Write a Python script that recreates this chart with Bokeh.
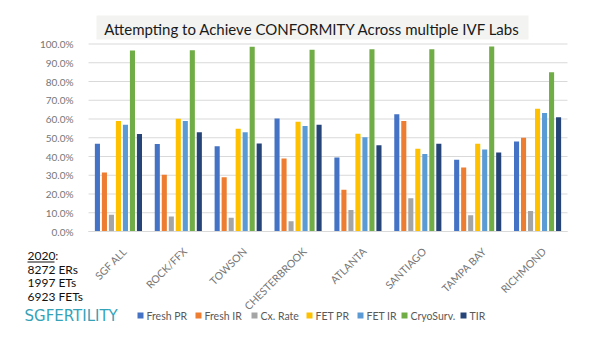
import math
from bokeh.plotting import figure
from bokeh.models import (Range1d, Label, BoxAnnotation, LinearAxis,
                          PrintfTickFormatter, FixedTicker, ColumnDataSource)
from bokeh.embed import file_html
from bokeh.resources import INLINE

labs = ["SGF ALL", "ROCK/FFX", "TOWSON", "CHESTERBROOK", "ATLANTA",
        "SANTIAGO", "TAMPA BAY", "RICHMOND"]
series = ["Fresh PR", "Fresh IR", "Cx. Rate", "FET PR", "FET IR", "CryoSurv.", "TIR"]
fresh_pr = [46.8, 46.7, 45.5, 60.3, 39.5, 62.5, 38.3, 48.0]
fresh_ir = [31.5, 30.3, 29.0, 39.0, 22.3, 59.0, 34.2, 50.0]
cx_rate = [9.0, 8.0, 7.3, 5.5, 11.5, 17.8, 8.7, 11.0]
fet_pr = [59.0, 60.2, 54.8, 58.5, 52.2, 44.2, 46.8, 65.5]
fet_ir = [57.0, 59.0, 53.0, 56.3, 50.3, 41.4, 43.8, 63.2]
cryo = [96.5, 96.7, 98.5, 97.0, 97.2, 97.2, 98.7, 85.0]
tir = [52.0, 53.0, 47.0, 57.0, 46.0, 46.8, 42.2, 61.0]
values = [fresh_pr, fresh_ir, cx_rate, fet_pr, fet_ir, cryo, tir]
colors = ["#4472C4", "#ED7D31", "#A5A5A5", "#FFC000", "#5B9BD5", "#70AD47", "#264478"]
y_ticks = [0, 10, 20, 30, 40, 50, 60, 70, 80, 90, 100]

title_text = "Attempting to Achieve CONFORMITY Across multiple IVF Labs"
note_lines = ["2020:", "8272 ERs", "1997 ETs", "6923 FETs"]
brand = "SGFERTILITY"

W, H = 600, 338
# plot area (canvas px): left, right, 0% line, 100% line
AL, AR, A0, A100 = 88, 567, 231, 43.5
n = len(labs)
xu = (AR - AL) / n          # px per category
yu = (A0 - A100) / 100.0    # px per percent

p = figure(width=W, height=H,
           x_range=Range1d(-AL / xu, n + (W - AR) / xu),
           y_range=Range1d(-(H - A0) / yu, 100 + A100 / yu),
           x_axis_type=None, y_axis_type=None,
           output_backend="svg", toolbar_location=None,
           min_border=0, min_border_left=0, min_border_right=0,
           min_border_top=0, min_border_bottom=0)
p.outline_line_color = None
p.background_fill_color = "white"
p.border_fill_color = "white"
p.grid.visible = False

# horizontal gridlines over the plot area
p.segment(x0=[0] * len(y_ticks), x1=[n] * len(y_ticks), y0=y_ticks, y1=y_ticks,
          line_color="#d9d9d9", line_width=1)

centers = [i + 0.5 for i in range(n)]
src = ColumnDataSource(dict(xc=centers, **{f"s{i}": v for i, v in enumerate(values)}))
step = 0.117
for i, (name, col) in enumerate(zip(series, colors)):
    src.data[f"x{i}"] = [c + (i - 3) * step for c in centers]
    p.vbar(x=f"x{i}", top=f"s{i}", width=0.085, source=src,
           fill_color=col, line_color=None)

# y axis at the left edge of the plot area
yaxis = LinearAxis(fixed_location=0, ticker=FixedTicker(ticks=y_ticks),
                   formatter=PrintfTickFormatter(format="%.1f%%"), bounds=(0, 100))
yaxis.axis_line_color = None
yaxis.major_tick_line_color = None
yaxis.minor_tick_line_color = None
yaxis.major_label_standoff = 9
yaxis.major_label_text_font = "Lato"
yaxis.major_label_text_font_size = "10px"
yaxis.major_label_text_color = "#767676"
p.add_layout(yaxis, "left")

# x axis along the 0% line (label anchors sit slightly right of the group centre)
label_pos = [c + 0.11 for c in centers]
overrides = {pos: name for pos, name in zip(label_pos, labs)}
xaxis = LinearAxis(fixed_location=0, ticker=FixedTicker(ticks=label_pos), bounds=(0, n),
                   major_label_overrides=overrides)
xaxis.axis_line_color = "#d9d9d9"
xaxis.major_tick_line_color = None
xaxis.minor_tick_line_color = None
xaxis.major_label_orientation = math.pi / 4
xaxis.major_label_standoff = 12
xaxis.major_label_text_font = "Lato"
xaxis.major_label_text_font_size = "10.5px"
xaxis.major_label_text_color = "#767676"
p.add_layout(xaxis, "below")


def sx(cx):
    return cx


def sy(cy):
    return H - cy


# title box and title
p.add_layout(BoxAnnotation(left=sx(96), right=sx(528), top=sy(15), bottom=sy(39),
                           left_units="screen", right_units="screen",
                           top_units="screen", bottom_units="screen",
                           fill_color="#f3f3f1", fill_alpha=1, line_color=None))
p.add_layout(Label(x=sx(312), y=sy(28), x_units="screen", y_units="screen",
                   text=title_text, text_align="center", text_baseline="middle",
                   text_font="Lato", text_font_size="15px", text_color="#1a1a1a"))

# notes
for k, t in enumerate(note_lines):
    p.add_layout(Label(x=sx(27), y=sy(255 + 13.5 * k), x_units="screen", y_units="screen",
                       text=t, text_align="left", text_baseline="middle",
                       text_font="Lato", text_font_size="12px", text_color="#111111"))
p.add_layout(BoxAnnotation(left=sx(27), right=sx(54), top=sy(261), bottom=sy(262),
                           left_units="screen", right_units="screen",
                           top_units="screen", bottom_units="screen",
                           fill_color="#111111", fill_alpha=1, line_color=None))

p.add_layout(Label(x=sx(24), y=sy(315), x_units="screen", y_units="screen",
                   text=brand, text_align="left", text_baseline="middle",
                   text_font="DejaVu Sans", text_font_size="15px", text_color="#35a2b8"))

# legend
leg_x = [137, 195, 251, 306, 357, 401, 460]
for name, col, lx in zip(series, colors, leg_x):
    p.add_layout(BoxAnnotation(left=sx(lx), right=sx(lx + 6), top=sy(312), bottom=sy(318),
                               left_units="screen", right_units="screen",
                               top_units="screen", bottom_units="screen",
                               fill_color=col, fill_alpha=1, line_color=None))
    p.add_layout(Label(x=sx(lx + 9), y=sy(315), x_units="screen", y_units="screen",
                       text=name, text_align="left", text_baseline="middle",
                       text_font="Lato", text_font_size="10.5px", text_color="#595959"))

open("out.html", "w").write(file_html(p, INLINE))
